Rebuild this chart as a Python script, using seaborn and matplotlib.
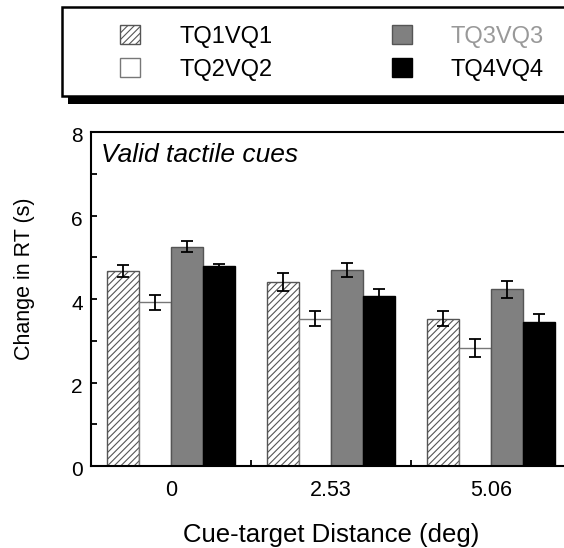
import matplotlib
matplotlib.use("Agg")
import matplotlib.pyplot as plt
import matplotlib.transforms as mtrans
from matplotlib.patches import Rectangle
import seaborn as sns
import pandas as pd
import numpy as np

# ---- data ----
distances = ["0", "2.53", "5.06"]
conditions = ["TQ1VQ1", "TQ2VQ2", "TQ3VQ3", "TQ4VQ4"]
tq1_mean = [4.67, 4.41, 3.53]
tq2_mean = [3.92, 3.53, 2.83]
tq3_mean = [5.25, 4.69, 4.23]
tq4_mean = [4.78, 4.08, 3.46]
tq1_err = [0.15, 0.21, 0.18]
tq2_err = [0.18, 0.18, 0.21]
tq3_err = [0.13, 0.17, 0.20]
tq4_err = [0.07, 0.17, 0.17]

means = [tq1_mean, tq2_mean, tq3_mean, tq4_mean]
errs = [tq1_err, tq2_err, tq3_err, tq4_err]

rows = []
for c, m in zip(conditions, means):
    for d, v in zip(distances, m):
        rows.append({"distance": d, "condition": c, "rt": v})
df = pd.DataFrame(rows)

plt.rcParams["font.family"] = ["Liberation Sans", "DejaVu Sans"]
plt.rcParams["hatch.linewidth"] = 0.8

W, H = 564, 548
fig = plt.figure(figsize=(W / 100, H / 100), dpi=100)
ax = fig.add_axes([91 / W, (H - 466) / H, 480 / W, 334 / H])

faces = ["white", "white", "#808080", "black"]
edges = ["#555555", "#777777", "#555555", "black"]
sns.barplot(data=df, x="distance", y="rt", hue="condition", order=distances,
            hue_order=conditions, palette=dict(zip(conditions, faces)),
            saturation=1, errorbar=None, width=0.8, ax=ax, legend=False)

bar_containers = list(ax.containers)
for i, cont in enumerate(bar_containers):
    for bar in cont:
        bar.set_edgecolor(edges[i])
        bar.set_linewidth(1.0)
        if i == 0:
            bar.set_hatch("/////")
    xs = [b.get_x() + b.get_width() / 2 for b in cont]
    ys = [b.get_height() for b in cont]
    ax.errorbar(xs, ys, yerr=errs[i], fmt="none", ecolor="black",
                elinewidth=1.3, capsize=4.3, capthick=1.3, zorder=5)

ax.set_xlim(-0.5, 2.5)
ax.set_ylim(0, 8)
ax.set_yticks([0, 2, 4, 6, 8])
ax.set_yticks([1, 3, 5, 7], minor=True)
ax.set_xticks([0.5, 1.5], minor=True)
ax.tick_params(axis="y", which="both", direction="in", length=4, width=1.3,
               labelsize=15, pad=6)
ax.tick_params(axis="x", which="major", length=0, labelsize=15.5, pad=10)
ax.tick_params(axis="x", which="minor", direction="in", length=4, width=1.3)
for s in ax.spines.values():
    s.set_linewidth(1.5)

offset = mtrans.ScaledTranslation(0, -3 / 100, fig.dpi_scale_trans)
for lbl in ax.get_yticklabels():
    lbl.set_transform(lbl.get_transform() + offset)

ax.set_xlabel("Cue-target Distance (deg)", fontsize=18.5)
ax.xaxis.set_label_coords(0.5, -0.17)
ax.set_ylabel("Change in RT (s)", fontsize=15.5)
ax.yaxis.set_label_coords(-0.117, 0.561)

ax.text(10 / 480, (466 - 162) / 334, "Valid tactile cues", transform=ax.transAxes,
        fontsize=19, style="italic", va="baseline", ha="left")

# legend box with shadow
fig.patches.append(Rectangle(((62 + 6) / W, (H - 104) / H), 1.0, 89 / H,
                             transform=fig.transFigure, facecolor="black",
                             edgecolor="none", zorder=0))
fig.patches.append(Rectangle((62 / W, (H - 96) / H), 1.0, 89 / H,
                             transform=fig.transFigure, facecolor="white",
                             edgecolor="black", linewidth=1.8, zorder=1))

leg = fig.legend([c[0] for c in bar_containers], conditions, ncol=2, loc="upper left",
                 bbox_to_anchor=(120 / W, (H - 25) / H), frameon=False,
                 fontsize=17, handlelength=0.85, handleheight=0.85,
                 handletextpad=1.65, columnspacing=5.07, labelspacing=0.45,
                 borderpad=0, borderaxespad=0)
leg.set_zorder(3)
leg.get_texts()[2].set_color("#999999")

fig.savefig("out.png", dpi=100)
